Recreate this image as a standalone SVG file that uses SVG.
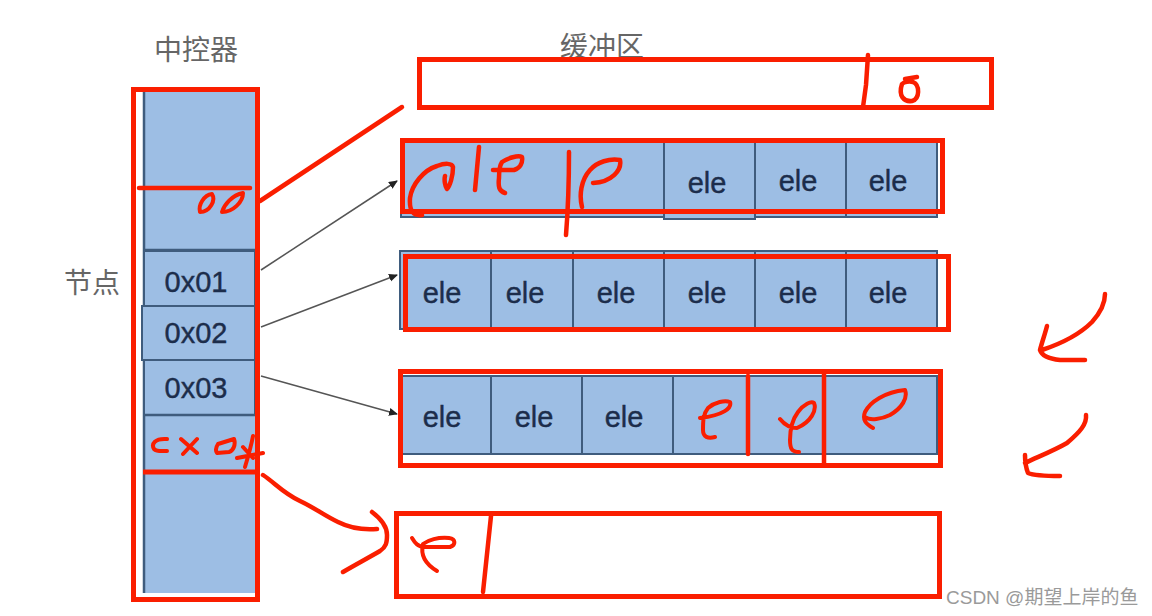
<svg xmlns="http://www.w3.org/2000/svg" width="1152" height="616" viewBox="0 0 1152 616">
<style>
.cell{fill:#9dbee4;stroke:#3f5c7d;stroke-width:2}
.bar{fill:#9dbee4;stroke:none}
.dark{stroke:#3f5c7d;stroke-width:2.500;fill:none}
.red{fill:none;stroke:#fa1e00;stroke-width:5}
.ink{fill:none;stroke:#fa1e00;stroke-width:4.500;stroke-linecap:round;stroke-linejoin:round}
.thin{stroke-width:4}
.t{font-family:"Liberation Sans",Arial,sans-serif;fill:#1c2d4b;stroke:#1c2d4b;stroke-width:.4;text-anchor:middle}
.ele{font-size:29px}
.addr{font-size:29px}
.zh{font-family:"Noto Sans CJK SC","Liberation Sans",sans-serif;fill:#666;font-size:28px;text-anchor:middle}
.wm{font-family:"Liberation Sans","Noto Sans CJK SC",sans-serif;fill:#9a9a9a;font-size:19px}
.arrow{stroke:#555;stroke-width:1.500;fill:none;marker-end:url(#ah)}
</style>
<defs>
<marker id="ah" markerUnits="userSpaceOnUse" markerWidth="10" markerHeight="10" refX="8" refY="4" orient="auto"><path d="M0,0L9,4L0,8z" fill="#222"/></marker>
</defs>
<rect width="1152" height="616" fill="#fff"/>

<g id="label-controller"><text class="zh" x="196" y="60">中控器</text></g>
<g id="label-buffer"><text class="zh" x="602" y="57">缓冲区</text></g>
<g id="label-nodes"><text class="zh" x="92" y="293">节点</text></g>

<g id="controller">
<rect class="bar" x="145" y="92" width="110" height="501"/>
<path class="dark" d="M144,92V593"/>
<path class="dark" d="M144,250H255"/>
</g>
<g id="node-0x01"><rect class="cell" x="144" y="251" width="111" height="55"/><text class="t addr" x="196" y="292">0x01</text></g>
<g id="node-0x02"><rect class="cell" x="142" y="306" width="113" height="54"/><text class="t addr" x="196" y="343">0x02</text></g>
<g id="node-0x03"><rect class="cell" x="144" y="360" width="111" height="55"/><text class="t addr" x="196" y="398">0x03</text></g>
<g id="node-0x04">
<path class="dark" d="M144,415H255"/>
<path class="ink thin" d="M167,439C155,438 151,444 154,449C157,452 162,451 167,451M181,439L197,453M197,439L183,454M218,444L234,439C236,445 233,451 229,452L217,453C215,450 216,447 218,444ZM253,436C251,447 248,457 245,467M237,458L263,453M243,447L253,458"/>
<path class="red" d="M143,472H258"/>
</g>
<g id="node-0x00">
<path class="ink" d="M139,188H250"/>
<path class="ink thin" d="M200,212C198,205 204,195 212,194C216,200 210,212 200,212ZM222,212C224,205 232,195 243,193C243,202 233,212 222,212Z"/>
</g>
<g id="controller-frame"><rect class="red" x="133.500" y="89.500" width="124" height="510"/></g>

<g id="buffer-0">
<rect class="red" x="419.500" y="59.500" width="572" height="48"/>
<path class="ink" d="M868,55L866,85L863,107"/>
<path class="ink" d="M902,84C898,96 904,102 912,101C920,99 920,85 913,82C909,81 904,82 902,84ZM905,79L917,77"/>
</g>

<g id="buffer-1">
<rect class="cell" x="401" y="142" width="263" height="75"/>
<rect class="cell" x="664" y="142" width="91" height="77"/>
<rect class="cell" x="755" y="142" width="91" height="75"/>
<rect class="cell" x="846" y="142" width="91" height="75"/>
<text class="t ele" x="707" y="193">ele</text>
<text class="t ele" x="798" y="191">ele</text>
<text class="t ele" x="888" y="191">ele</text>
<rect class="red" x="402.500" y="140.500" width="540" height="71"/>
<path class="ink" d="M422,215C414,216 409,212 410,198C412,184 424,170 437,166C445,163 452,163 453,167C453,176 450,186 447,189C445,186 444,180 445,176M479,147L475,190M505,193C499,191 498,187 499,178C499,170 500,165 502,162C508,158 518,155 522,157C523,163 520,168 514,170L493,170M569,152C569,180 568,210 566,235M582,207C579,195 581,180 590,170C597,162 610,158 620,160C622,170 612,182 593,183"/>
</g>

<g id="buffer-2">
<rect class="cell" x="400" y="251" width="91" height="78"/>
<rect class="cell" x="491" y="251" width="82" height="78"/>
<rect class="cell" x="573" y="251" width="91" height="78"/>
<rect class="cell" x="664" y="251" width="91" height="78"/>
<rect class="cell" x="755" y="251" width="91" height="78"/>
<rect class="cell" x="846" y="251" width="91" height="78"/>
<text class="t ele" x="442" y="303">ele</text>
<text class="t ele" x="525" y="303">ele</text>
<text class="t ele" x="616" y="303">ele</text>
<text class="t ele" x="707" y="303">ele</text>
<text class="t ele" x="798" y="303">ele</text>
<text class="t ele" x="888" y="303">ele</text>
<rect class="red" x="405.500" y="256.500" width="543" height="73"/>
</g>

<g id="buffer-3">
<rect class="cell" x="402" y="376" width="89" height="78"/>
<rect class="cell" x="491" y="376" width="91" height="78"/>
<rect class="cell" x="582" y="376" width="91" height="78"/>
<rect class="cell" x="673" y="376" width="264" height="78"/>
<text class="t ele" x="442" y="427">ele</text>
<text class="t ele" x="534" y="427">ele</text>
<text class="t ele" x="624" y="427">ele</text>
<rect class="red" x="400.500" y="371.500" width="540" height="94"/>
<path class="ink" d="M748,376V454M824,372V463"/>
<path class="ink thin" d="M715,437C708,439 703,437 703,430C703,422 703,414 708,408C715,402 725,400 730,402C732,408 724,415 700,418M799,452C792,452 790,449 790,440C790,430 792,420 798,412C804,404 811,401 814,403C817,410 811,422 797,428C790,428 784,424 780,419M873,428C866,424 862,420 865,412C870,402 885,392 905,390C908,398 902,408 890,415C882,419 870,421 865,417"/>
</g>

<g id="buffer-4">
<rect class="red" x="396.500" y="513.500" width="543" height="83"/>
<path class="ink" d="M491,516L483,592"/>
<path class="ink thin" d="M412,538C415,543 418,547 425,547L450,547C456,545 456,539 449,538C438,537 428,540 423,544C421,552 422,562 437,571"/>
</g>

<g id="connectors">
<path class="arrow" d="M261,270L397,181"/>
<path class="arrow" d="M261,327L397,275"/>
<path class="arrow" d="M261,376L397,414"/>
<path class="ink" d="M260,201L402,107"/>
<path class="ink" d="M263,475C275,483 283,493 300,501C315,508 325,516 338,522C350,528 365,530 377,529M372,512C380,518 387,526 387,535C387,543 386,547 380,551C368,558 355,565 343,572"/>
</g>

<g id="marks">
<path class="ink" d="M1105,294C1105,303 1101,312 1092,322C1080,334 1060,344 1042,350M1047,326C1045,334 1042,342 1040,350C1042,356 1050,359 1060,360L1085,360"/>
<path class="ink" d="M1086,415C1087,424 1080,432 1067,443C1055,450 1040,456 1025,463M1025,455C1025,462 1026,468 1028,473C1035,476 1048,476 1060,476"/>
</g>

<g id="watermark"><text class="wm" x="946" y="604">CSDN @期望上岸的鱼</text></g>
</svg>
